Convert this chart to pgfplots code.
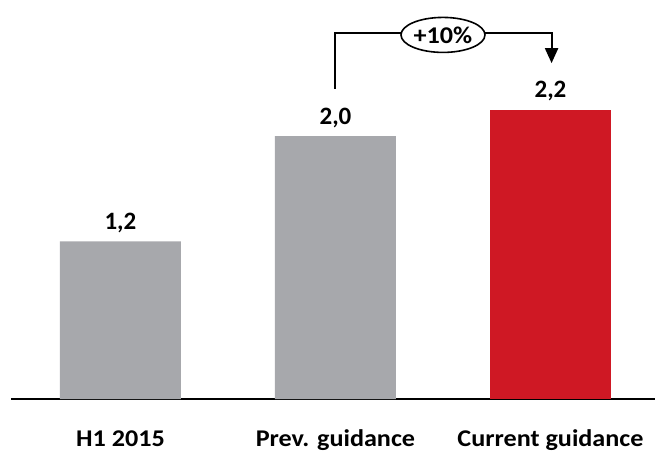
\documentclass[border=0pt]{standalone}
\usepackage{fontspec}
\setmainfont{Carlito}
\newfontfamily\widefont{Carlito}[FakeStretch=1.09]
\usepackage{pgfplots}
\pgfplotsset{compat=1.18}
\usetikzlibrary{arrows.meta,shapes.geometric}

\definecolor{bargray}{RGB}{167,168,172}
\definecolor{barred}{RGB}{207,24,36}

\begin{document}
\begin{tikzpicture}
\path[use as bounding box] (0,0) rectangle (655bp,451bp);
\begin{axis}[
  at={(11bp,52bp)}, anchor=south west,
  scale only axis, width=644bp, height=347bp,
  xmin=-0.509, xmax=2.486, ymin=0, ymax=2.64,
  clip=false,
  axis x line=bottom, axis y line=none,
  x axis line style={-, line width=1.4pt, black},
  xtick={0,1,2}, major tick length=0pt,
  xticklabels={H1 2015, Prev. guidance, Current guidance},
  xticklabel style={anchor=base, yshift=-47.5bp, font=\widefont\bfseries\fontsize{24bp}{26bp}\selectfont},
  ytick=\empty,
  /pgf/number format/assume math mode=true,
  ybar, bar width=121bp, bar shift=0pt,
  nodes near coords={\pgfmathprintnumber[fixed,fixed zerofill,precision=1,use comma,assume math mode=true]{\pgfplotspointmeta}},
  every node near coord/.append style={anchor=base, yshift=12bp, font=\bfseries\fontsize{25bp}{27bp}\selectfont, black},
]
\addplot[fill=bargray, draw=none] coordinates {(0,1.2) (1,2.0)};
\addplot[fill=barred, draw=none] coordinates {(2,2.2)};

% growth annotation from the previous to the current guidance
\draw[line width=2bp] (axis cs:1,2.36) |- (axis cs:1.5,2.785);
\draw[line width=2bp, -{Triangle[width=13bp,length=15bp]}] (axis cs:1.5,2.785) -| (axis cs:2.005,2.555);
\node[draw, line width=1.6bp, ellipse, fill=white, minimum width=84bp, minimum height=35bp, inner sep=0pt,
      font=\widefont\bfseries\fontsize{24bp}{26bp}\selectfont] at (axis cs:1.5,2.77) {+10\%};
\end{axis}
\end{tikzpicture}
\end{document}
